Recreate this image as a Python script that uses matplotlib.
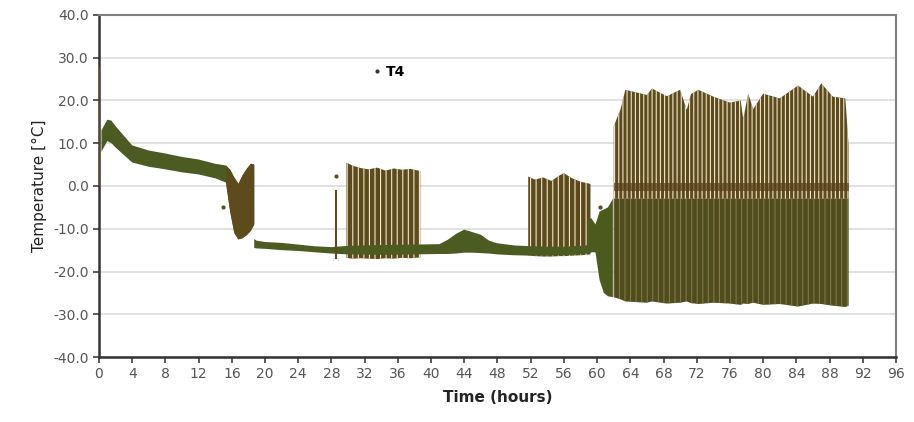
import numpy as np
import matplotlib.pyplot as plt
from matplotlib.lines import Line2D

# steady (green) band: time, upper, lower envelope
band_t = [0.3, 1.0, 1.5, 2, 4, 6, 8, 10, 12, 14, 15.3, 15.8, 16.3, 16.8, 17.3, 17.8, 18.3, 18.7]
band_hi = [13.0, 15.5, 15.3, 14.0, 9.5, 8.3, 7.6, 6.8, 6.2, 5.2, 4.8, 3.8, 2.0, 0.5, 2.5, 4.0, 5.2, 5.0]
band_lo = [8.0, 10.5, 10.0, 9.0, 5.5, 4.5, 3.9, 3.2, 2.7, 1.8, 0.8, -6.0, -11.0, -12.5, -12.2, -11.5, -10.5, -9.0]

steady_t = [18.7, 19, 20, 22, 24, 26, 28, 30, 34, 38, 41, 42, 43, 44, 45, 46, 47, 48, 50, 52, 54, 56, 58, 59.3]
steady_hi = [-12.4, -12.8, -13.1, -13.3, -13.7, -14.1, -14.3, -14.0, -13.8, -13.7, -13.6, -12.6, -11.2, -10.2, -10.8, -11.4, -12.8, -13.4, -13.9, -14.1, -14.2, -14.2, -14.0, -13.8]
steady_lo = [-14.5, -14.6, -14.7, -15.0, -15.2, -15.5, -15.8, -16.0, -16.1, -16.0, -15.9, -15.9, -15.8, -15.6, -15.6, -15.7, -15.8, -16.0, -16.2, -16.3, -16.3, -16.2, -16.0, -15.6]

# transition cluster around 59-62 h
trans_t = [58.8, 59.3, 59.8, 60.3, 60.8, 61.3, 61.9]
trans_hi = [-8.0, -7.5, -9.0, -6.0, -5.5, -5.0, -3.0]
trans_lo = [-14.5, -15.5, -15.5, -22.0, -25.0, -25.8, -26.0]

# oscillating blocks: time, top envelope, bottom
osc1_t = [29.8, 30.5, 31.5, 32.5, 33.5, 34.5, 35.5, 36.5, 37.5, 38.7]
osc1_hi = [5.5, 4.8, 4.2, 3.9, 4.3, 3.6, 4.1, 3.8, 4.0, 3.5]
osc1_lo = [-16.8, -17.0, -16.9, -17.0, -17.1, -16.9, -17.0, -16.8, -16.9, -16.7]

osc2_t = [51.7, 52.5, 53.5, 54.5, 55.5, 56.0, 57.0, 58.0, 59.2]
osc2_hi = [2.2, 1.5, 2.0, 1.2, 2.5, 3.0, 1.8, 1.0, 0.5]
osc2_lo = [-16.2, -16.4, -16.5, -16.5, -16.4, -16.4, -16.3, -16.2, -16.0]

osc3_t = [62.0, 62.8, 63.4, 66.0, 66.6, 68.4, 70.0, 70.8, 71.3, 72.2, 74.0, 76.0,
          77.3, 77.6, 78.2, 78.8, 80.0, 82.0, 84.2, 86.0, 87.0, 88.4, 89.9, 90.3]
osc3_hi = [14.0, 17.8, 22.5, 21.3, 22.8, 21.0, 22.5, 17.8, 21.5, 22.5, 20.9, 19.5,
           20.0, 15.6, 21.6, 18.0, 21.6, 20.5, 23.5, 20.9, 24.0, 20.9, 20.5, 9.3]
osc3_lo = [-26.0, -26.5, -27.0, -27.3, -27.0, -27.5, -27.3, -27.0, -27.4, -27.6, -27.3, -27.5,
           -27.8, -27.5, -27.6, -27.3, -27.8, -27.6, -28.2, -27.5, -27.6, -28.0, -28.3, -28.0]

# single columns and stray points
col_t = [0.0, 28.6]
col_hi = [28.0, -1.0]
col_lo = [0.0, -17.0]
stray_t = [14.9, 28.5, 60.4]
stray_v = [-4.8, 2.3, -4.8]

green = '#4b5b22'
brown = '#5d4b1d'
cream = '#efe6cc'

plt.rcParams['hatch.linewidth'] = 0.8
fig = plt.figure(figsize=(9.14, 4.22), dpi=100)
ax = fig.add_axes([0.1083, 0.154, 0.872, 0.8105])

for t, hi, lo in [(osc1_t, osc1_hi, osc1_lo), (osc2_t, osc2_hi, osc2_lo)]:
    ax.fill_between(t, lo, hi, facecolor=brown, edgecolor=cream, hatch='|||', lw=0, zorder=2)

ax.fill_between(osc3_t, -3.0, osc3_hi, facecolor=brown, edgecolor=cream, hatch='||||', lw=0, zorder=2)
ax.fill_between(osc3_t, osc3_lo, -3.0, facecolor='#4f4d1d', edgecolor='#857548', hatch='|||', lw=0, zorder=2)
ax.fill_between(osc3_t, -1.2, 0.6, facecolor='#5a3f1a', alpha=0.7, lw=0, zorder=3)

ax.fill_between(band_t, band_lo, band_hi, facecolor=green, lw=0, zorder=3)
ax.fill_between(band_t[10:], band_lo[10:], band_hi[10:], facecolor=brown, lw=0, zorder=3)
ax.fill_between(steady_t, steady_lo, steady_hi, facecolor=green, lw=0, zorder=4)
ax.fill_between(trans_t, trans_lo, trans_hi, facecolor='#4d5a1e', lw=0, zorder=4)
ax.vlines(col_t, col_lo, col_hi, colors=brown, lw=1.5, zorder=4)
ax.scatter(stray_t, stray_v, s=4, color=brown, zorder=4)

ax.set_xlim(0, 96)
ax.set_ylim(-40, 40)
ax.set_xticks(np.arange(0, 97, 4))
ax.set_yticks(np.arange(-40, 41, 10))
ax.yaxis.set_major_formatter(plt.FormatStrFormatter('%.1f'))
ax.grid(axis='y', color='#dcdcdc', lw=1.2)
ax.set_axisbelow(True)
ax.tick_params(direction='out', length=4, width=1.2, colors='#404040', labelcolor='#555555', labelsize=10)
for s in ['left', 'bottom']:
    ax.spines[s].set_color('#333333')
    ax.spines[s].set_linewidth(1.8)
for s in ['top', 'right']:
    ax.spines[s].set_color('#7f7f7f')
    ax.spines[s].set_linewidth(1.5)

ax.set_xlabel('Time (hours)', fontsize=11, fontweight='bold', color='#222222', labelpad=6)
ax.set_ylabel('Temperature [°C]', fontsize=11, color='#222222', labelpad=4)

h = Line2D([], [], marker='.', ls='none', color='#333333', markersize=4)
ax.legend([h], ['T4'], loc='center left', bbox_to_anchor=(0.325, 0.833), frameon=False,
          handletextpad=0.1, handlelength=1.0, prop={'weight': 'bold', 'size': 10})

fig.savefig('out.png', dpi=100)
